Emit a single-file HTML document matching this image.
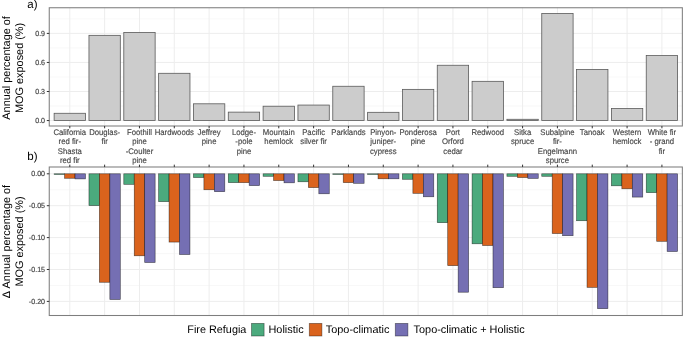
<!DOCTYPE html><html><head><meta charset="utf-8"><style>html,body{margin:0;padding:0;background:#fff;width:685px;height:339px;overflow:hidden}svg{display:block;will-change:transform}text{font-family:"Liberation Sans",sans-serif;text-rendering:geometricPrecision}</style></head><body>
<svg width="685" height="339" viewBox="0 0 685 339">
<rect x="0" y="0" width="685" height="339" fill="#fff"/>
<line x1="49.25" x2="682.35" y1="106.03" y2="106.03" stroke="#F6F6F6" stroke-width="0.8"/>
<line x1="49.25" x2="682.35" y1="76.98" y2="76.98" stroke="#F6F6F6" stroke-width="0.8"/>
<line x1="49.25" x2="682.35" y1="47.93" y2="47.93" stroke="#F6F6F6" stroke-width="0.8"/>
<line x1="49.25" x2="682.35" y1="18.88" y2="18.88" stroke="#F6F6F6" stroke-width="0.8"/>
<line x1="49.25" x2="682.35" y1="120.55" y2="120.55" stroke="#EDEDED" stroke-width="1"/>
<line x1="49.25" x2="682.35" y1="91.50" y2="91.50" stroke="#EDEDED" stroke-width="1"/>
<line x1="49.25" x2="682.35" y1="62.45" y2="62.45" stroke="#EDEDED" stroke-width="1"/>
<line x1="49.25" x2="682.35" y1="33.40" y2="33.40" stroke="#EDEDED" stroke-width="1"/>
<line x1="69.80" x2="69.80" y1="7.75" y2="126.00" stroke="#EDEDED" stroke-width="1"/>
<line x1="104.63" x2="104.63" y1="7.75" y2="126.00" stroke="#EDEDED" stroke-width="1"/>
<line x1="139.46" x2="139.46" y1="7.75" y2="126.00" stroke="#EDEDED" stroke-width="1"/>
<line x1="174.29" x2="174.29" y1="7.75" y2="126.00" stroke="#EDEDED" stroke-width="1"/>
<line x1="209.12" x2="209.12" y1="7.75" y2="126.00" stroke="#EDEDED" stroke-width="1"/>
<line x1="243.95" x2="243.95" y1="7.75" y2="126.00" stroke="#EDEDED" stroke-width="1"/>
<line x1="278.78" x2="278.78" y1="7.75" y2="126.00" stroke="#EDEDED" stroke-width="1"/>
<line x1="313.61" x2="313.61" y1="7.75" y2="126.00" stroke="#EDEDED" stroke-width="1"/>
<line x1="348.44" x2="348.44" y1="7.75" y2="126.00" stroke="#EDEDED" stroke-width="1"/>
<line x1="383.27" x2="383.27" y1="7.75" y2="126.00" stroke="#EDEDED" stroke-width="1"/>
<line x1="418.10" x2="418.10" y1="7.75" y2="126.00" stroke="#EDEDED" stroke-width="1"/>
<line x1="452.93" x2="452.93" y1="7.75" y2="126.00" stroke="#EDEDED" stroke-width="1"/>
<line x1="487.76" x2="487.76" y1="7.75" y2="126.00" stroke="#EDEDED" stroke-width="1"/>
<line x1="522.59" x2="522.59" y1="7.75" y2="126.00" stroke="#EDEDED" stroke-width="1"/>
<line x1="557.42" x2="557.42" y1="7.75" y2="126.00" stroke="#EDEDED" stroke-width="1"/>
<line x1="592.25" x2="592.25" y1="7.75" y2="126.00" stroke="#EDEDED" stroke-width="1"/>
<line x1="627.08" x2="627.08" y1="7.75" y2="126.00" stroke="#EDEDED" stroke-width="1"/>
<line x1="661.91" x2="661.91" y1="7.75" y2="126.00" stroke="#EDEDED" stroke-width="1"/>
<rect x="54.13" y="113.29" width="31.35" height="7.26" fill="#CCCCCC" stroke="#5a5a5a" stroke-width="0.8"/>
<rect x="88.96" y="35.34" width="31.35" height="85.21" fill="#CCCCCC" stroke="#5a5a5a" stroke-width="0.8"/>
<rect x="123.79" y="32.43" width="31.35" height="88.12" fill="#CCCCCC" stroke="#5a5a5a" stroke-width="0.8"/>
<rect x="158.62" y="73.30" width="31.35" height="47.25" fill="#CCCCCC" stroke="#5a5a5a" stroke-width="0.8"/>
<rect x="193.45" y="103.80" width="31.35" height="16.75" fill="#CCCCCC" stroke="#5a5a5a" stroke-width="0.8"/>
<rect x="228.28" y="112.13" width="31.35" height="8.42" fill="#CCCCCC" stroke="#5a5a5a" stroke-width="0.8"/>
<rect x="263.11" y="106.22" width="31.35" height="14.33" fill="#CCCCCC" stroke="#5a5a5a" stroke-width="0.8"/>
<rect x="297.94" y="105.06" width="31.35" height="15.49" fill="#CCCCCC" stroke="#5a5a5a" stroke-width="0.8"/>
<rect x="332.77" y="86.27" width="31.35" height="34.28" fill="#CCCCCC" stroke="#5a5a5a" stroke-width="0.8"/>
<rect x="367.60" y="112.32" width="31.35" height="8.23" fill="#CCCCCC" stroke="#5a5a5a" stroke-width="0.8"/>
<rect x="402.43" y="89.37" width="31.35" height="31.18" fill="#CCCCCC" stroke="#5a5a5a" stroke-width="0.8"/>
<rect x="437.26" y="65.26" width="31.35" height="55.29" fill="#CCCCCC" stroke="#5a5a5a" stroke-width="0.8"/>
<rect x="472.09" y="81.33" width="31.35" height="39.22" fill="#CCCCCC" stroke="#5a5a5a" stroke-width="0.8"/>
<rect x="506.92" y="119.29" width="31.35" height="1.26" fill="#CCCCCC" stroke="#5a5a5a" stroke-width="0.8"/>
<rect x="541.75" y="13.46" width="31.35" height="107.09" fill="#CCCCCC" stroke="#5a5a5a" stroke-width="0.8"/>
<rect x="576.58" y="69.42" width="31.35" height="51.13" fill="#CCCCCC" stroke="#5a5a5a" stroke-width="0.8"/>
<rect x="611.41" y="108.54" width="31.35" height="12.01" fill="#CCCCCC" stroke="#5a5a5a" stroke-width="0.8"/>
<rect x="646.24" y="55.58" width="31.35" height="64.97" fill="#CCCCCC" stroke="#5a5a5a" stroke-width="0.8"/>
<rect x="49.25" y="7.75" width="633.10" height="118.25" fill="none" stroke="#7e7e7e" stroke-width="1.05"/>
<line x1="46.80" x2="49.25" y1="120.55" y2="120.55" stroke="#333333" stroke-width="1"/>
<text transform="translate(45.05,123.20) scale(0.96,1)" font-size="7.4" fill="#474747" stroke="#474747" stroke-width="0.18" text-anchor="end">0.0</text>
<line x1="46.80" x2="49.25" y1="91.50" y2="91.50" stroke="#333333" stroke-width="1"/>
<text transform="translate(45.05,94.15) scale(0.96,1)" font-size="7.4" fill="#474747" stroke="#474747" stroke-width="0.18" text-anchor="end">0.3</text>
<line x1="46.80" x2="49.25" y1="62.45" y2="62.45" stroke="#333333" stroke-width="1"/>
<text transform="translate(45.05,65.10) scale(0.96,1)" font-size="7.4" fill="#474747" stroke="#474747" stroke-width="0.18" text-anchor="end">0.6</text>
<line x1="46.80" x2="49.25" y1="33.40" y2="33.40" stroke="#333333" stroke-width="1"/>
<text transform="translate(45.05,36.05) scale(0.96,1)" font-size="7.4" fill="#474747" stroke="#474747" stroke-width="0.18" text-anchor="end">0.9</text>
<line x1="69.80" x2="69.80" y1="126.00" y2="128.30" stroke="#333333" stroke-width="1"/>
<text transform="translate(69.80,134.80) scale(0.945,1)" font-size="8.2" fill="#474747" stroke="#474747" stroke-width="0.15" text-anchor="middle">California</text>
<text transform="translate(69.80,144.15) scale(0.945,1)" font-size="8.2" fill="#474747" stroke="#474747" stroke-width="0.15" text-anchor="middle">red fir-</text>
<text transform="translate(69.80,153.50) scale(0.945,1)" font-size="8.2" fill="#474747" stroke="#474747" stroke-width="0.15" text-anchor="middle">Shasta</text>
<text transform="translate(69.80,162.85) scale(0.945,1)" font-size="8.2" fill="#474747" stroke="#474747" stroke-width="0.15" text-anchor="middle">red fir</text>
<line x1="104.63" x2="104.63" y1="126.00" y2="128.30" stroke="#333333" stroke-width="1"/>
<text transform="translate(104.63,134.80) scale(0.945,1)" font-size="8.2" fill="#474747" stroke="#474747" stroke-width="0.15" text-anchor="middle">Douglas-</text>
<text transform="translate(104.63,144.15) scale(0.945,1)" font-size="8.2" fill="#474747" stroke="#474747" stroke-width="0.15" text-anchor="middle">fir</text>
<line x1="139.46" x2="139.46" y1="126.00" y2="128.30" stroke="#333333" stroke-width="1"/>
<text transform="translate(139.46,134.80) scale(0.945,1)" font-size="8.2" fill="#474747" stroke="#474747" stroke-width="0.15" text-anchor="middle">Foothill</text>
<text transform="translate(139.46,144.15) scale(0.945,1)" font-size="8.2" fill="#474747" stroke="#474747" stroke-width="0.15" text-anchor="middle">pine</text>
<text transform="translate(139.46,153.50) scale(0.945,1)" font-size="8.2" fill="#474747" stroke="#474747" stroke-width="0.15" text-anchor="middle">-Coulter</text>
<text transform="translate(139.46,162.85) scale(0.945,1)" font-size="8.2" fill="#474747" stroke="#474747" stroke-width="0.15" text-anchor="middle">pine</text>
<line x1="174.29" x2="174.29" y1="126.00" y2="128.30" stroke="#333333" stroke-width="1"/>
<text transform="translate(174.29,134.80) scale(0.945,1)" font-size="8.2" fill="#474747" stroke="#474747" stroke-width="0.15" text-anchor="middle">Hardwoods</text>
<line x1="209.12" x2="209.12" y1="126.00" y2="128.30" stroke="#333333" stroke-width="1"/>
<text transform="translate(209.12,134.80) scale(0.945,1)" font-size="8.2" fill="#474747" stroke="#474747" stroke-width="0.15" text-anchor="middle">Jeffrey</text>
<text transform="translate(209.12,144.15) scale(0.945,1)" font-size="8.2" fill="#474747" stroke="#474747" stroke-width="0.15" text-anchor="middle">pine</text>
<line x1="243.95" x2="243.95" y1="126.00" y2="128.30" stroke="#333333" stroke-width="1"/>
<text transform="translate(243.95,134.80) scale(0.945,1)" font-size="8.2" fill="#474747" stroke="#474747" stroke-width="0.15" text-anchor="middle">Lodge-</text>
<text transform="translate(243.95,144.15) scale(0.945,1)" font-size="8.2" fill="#474747" stroke="#474747" stroke-width="0.15" text-anchor="middle">-pole</text>
<text transform="translate(243.95,153.50) scale(0.945,1)" font-size="8.2" fill="#474747" stroke="#474747" stroke-width="0.15" text-anchor="middle">pine</text>
<line x1="278.78" x2="278.78" y1="126.00" y2="128.30" stroke="#333333" stroke-width="1"/>
<text transform="translate(278.78,134.80) scale(0.945,1)" font-size="8.2" fill="#474747" stroke="#474747" stroke-width="0.15" text-anchor="middle">Mountain</text>
<text transform="translate(278.78,144.15) scale(0.945,1)" font-size="8.2" fill="#474747" stroke="#474747" stroke-width="0.15" text-anchor="middle">hemlock</text>
<line x1="313.61" x2="313.61" y1="126.00" y2="128.30" stroke="#333333" stroke-width="1"/>
<text transform="translate(313.61,134.80) scale(0.945,1)" font-size="8.2" fill="#474747" stroke="#474747" stroke-width="0.15" text-anchor="middle">Pacific</text>
<text transform="translate(313.61,144.15) scale(0.945,1)" font-size="8.2" fill="#474747" stroke="#474747" stroke-width="0.15" text-anchor="middle">silver fir</text>
<line x1="348.44" x2="348.44" y1="126.00" y2="128.30" stroke="#333333" stroke-width="1"/>
<text transform="translate(348.44,134.80) scale(0.945,1)" font-size="8.2" fill="#474747" stroke="#474747" stroke-width="0.15" text-anchor="middle">Parklands</text>
<line x1="383.27" x2="383.27" y1="126.00" y2="128.30" stroke="#333333" stroke-width="1"/>
<text transform="translate(383.27,134.80) scale(0.945,1)" font-size="8.2" fill="#474747" stroke="#474747" stroke-width="0.15" text-anchor="middle">Pinyon-</text>
<text transform="translate(383.27,144.15) scale(0.945,1)" font-size="8.2" fill="#474747" stroke="#474747" stroke-width="0.15" text-anchor="middle">juniper-</text>
<text transform="translate(383.27,153.50) scale(0.945,1)" font-size="8.2" fill="#474747" stroke="#474747" stroke-width="0.15" text-anchor="middle">cypress</text>
<line x1="418.10" x2="418.10" y1="126.00" y2="128.30" stroke="#333333" stroke-width="1"/>
<text transform="translate(418.10,134.80) scale(0.945,1)" font-size="8.2" fill="#474747" stroke="#474747" stroke-width="0.15" text-anchor="middle">Ponderosa</text>
<text transform="translate(418.10,144.15) scale(0.945,1)" font-size="8.2" fill="#474747" stroke="#474747" stroke-width="0.15" text-anchor="middle">pine</text>
<line x1="452.93" x2="452.93" y1="126.00" y2="128.30" stroke="#333333" stroke-width="1"/>
<text transform="translate(452.93,134.80) scale(0.945,1)" font-size="8.2" fill="#474747" stroke="#474747" stroke-width="0.15" text-anchor="middle">Port</text>
<text transform="translate(452.93,144.15) scale(0.945,1)" font-size="8.2" fill="#474747" stroke="#474747" stroke-width="0.15" text-anchor="middle">Orford</text>
<text transform="translate(452.93,153.50) scale(0.945,1)" font-size="8.2" fill="#474747" stroke="#474747" stroke-width="0.15" text-anchor="middle">cedar</text>
<line x1="487.76" x2="487.76" y1="126.00" y2="128.30" stroke="#333333" stroke-width="1"/>
<text transform="translate(487.76,134.80) scale(0.945,1)" font-size="8.2" fill="#474747" stroke="#474747" stroke-width="0.15" text-anchor="middle">Redwood</text>
<line x1="522.59" x2="522.59" y1="126.00" y2="128.30" stroke="#333333" stroke-width="1"/>
<text transform="translate(522.59,134.80) scale(0.945,1)" font-size="8.2" fill="#474747" stroke="#474747" stroke-width="0.15" text-anchor="middle">Sitka</text>
<text transform="translate(522.59,144.15) scale(0.945,1)" font-size="8.2" fill="#474747" stroke="#474747" stroke-width="0.15" text-anchor="middle">spruce</text>
<line x1="557.42" x2="557.42" y1="126.00" y2="128.30" stroke="#333333" stroke-width="1"/>
<text transform="translate(557.42,134.80) scale(0.945,1)" font-size="8.2" fill="#474747" stroke="#474747" stroke-width="0.15" text-anchor="middle">Subalpine</text>
<text transform="translate(557.42,144.15) scale(0.945,1)" font-size="8.2" fill="#474747" stroke="#474747" stroke-width="0.15" text-anchor="middle">fir-</text>
<text transform="translate(557.42,153.50) scale(0.945,1)" font-size="8.2" fill="#474747" stroke="#474747" stroke-width="0.15" text-anchor="middle">Engelmann</text>
<text transform="translate(557.42,162.85) scale(0.945,1)" font-size="8.2" fill="#474747" stroke="#474747" stroke-width="0.15" text-anchor="middle">spurce</text>
<line x1="592.25" x2="592.25" y1="126.00" y2="128.30" stroke="#333333" stroke-width="1"/>
<text transform="translate(592.25,134.80) scale(0.945,1)" font-size="8.2" fill="#474747" stroke="#474747" stroke-width="0.15" text-anchor="middle">Tanoak</text>
<line x1="627.08" x2="627.08" y1="126.00" y2="128.30" stroke="#333333" stroke-width="1"/>
<text transform="translate(627.08,134.80) scale(0.945,1)" font-size="8.2" fill="#474747" stroke="#474747" stroke-width="0.15" text-anchor="middle">Western</text>
<text transform="translate(627.08,144.15) scale(0.945,1)" font-size="8.2" fill="#474747" stroke="#474747" stroke-width="0.15" text-anchor="middle">hemlock</text>
<line x1="661.91" x2="661.91" y1="126.00" y2="128.30" stroke="#333333" stroke-width="1"/>
<text transform="translate(661.91,134.80) scale(0.945,1)" font-size="8.2" fill="#474747" stroke="#474747" stroke-width="0.15" text-anchor="middle">White fir</text>
<text transform="translate(661.91,144.15) scale(0.945,1)" font-size="8.2" fill="#474747" stroke="#474747" stroke-width="0.15" text-anchor="middle">- grand</text>
<text transform="translate(661.91,153.50) scale(0.945,1)" font-size="8.2" fill="#474747" stroke="#474747" stroke-width="0.15" text-anchor="middle">fir</text>
<line x1="49.25" x2="682.35" y1="189.75" y2="189.75" stroke="#F6F6F6" stroke-width="0.8"/>
<line x1="49.25" x2="682.35" y1="221.65" y2="221.65" stroke="#F6F6F6" stroke-width="0.8"/>
<line x1="49.25" x2="682.35" y1="253.55" y2="253.55" stroke="#F6F6F6" stroke-width="0.8"/>
<line x1="49.25" x2="682.35" y1="285.45" y2="285.45" stroke="#F6F6F6" stroke-width="0.8"/>
<line x1="49.25" x2="682.35" y1="173.80" y2="173.80" stroke="#EDEDED" stroke-width="1"/>
<line x1="49.25" x2="682.35" y1="205.70" y2="205.70" stroke="#EDEDED" stroke-width="1"/>
<line x1="49.25" x2="682.35" y1="237.60" y2="237.60" stroke="#EDEDED" stroke-width="1"/>
<line x1="49.25" x2="682.35" y1="269.50" y2="269.50" stroke="#EDEDED" stroke-width="1"/>
<line x1="49.25" x2="682.35" y1="301.40" y2="301.40" stroke="#EDEDED" stroke-width="1"/>
<line x1="69.80" x2="69.80" y1="167.00" y2="315.50" stroke="#EDEDED" stroke-width="1"/>
<line x1="104.63" x2="104.63" y1="167.00" y2="315.50" stroke="#EDEDED" stroke-width="1"/>
<line x1="139.46" x2="139.46" y1="167.00" y2="315.50" stroke="#EDEDED" stroke-width="1"/>
<line x1="174.29" x2="174.29" y1="167.00" y2="315.50" stroke="#EDEDED" stroke-width="1"/>
<line x1="209.12" x2="209.12" y1="167.00" y2="315.50" stroke="#EDEDED" stroke-width="1"/>
<line x1="243.95" x2="243.95" y1="167.00" y2="315.50" stroke="#EDEDED" stroke-width="1"/>
<line x1="278.78" x2="278.78" y1="167.00" y2="315.50" stroke="#EDEDED" stroke-width="1"/>
<line x1="313.61" x2="313.61" y1="167.00" y2="315.50" stroke="#EDEDED" stroke-width="1"/>
<line x1="348.44" x2="348.44" y1="167.00" y2="315.50" stroke="#EDEDED" stroke-width="1"/>
<line x1="383.27" x2="383.27" y1="167.00" y2="315.50" stroke="#EDEDED" stroke-width="1"/>
<line x1="418.10" x2="418.10" y1="167.00" y2="315.50" stroke="#EDEDED" stroke-width="1"/>
<line x1="452.93" x2="452.93" y1="167.00" y2="315.50" stroke="#EDEDED" stroke-width="1"/>
<line x1="487.76" x2="487.76" y1="167.00" y2="315.50" stroke="#EDEDED" stroke-width="1"/>
<line x1="522.59" x2="522.59" y1="167.00" y2="315.50" stroke="#EDEDED" stroke-width="1"/>
<line x1="557.42" x2="557.42" y1="167.00" y2="315.50" stroke="#EDEDED" stroke-width="1"/>
<line x1="592.25" x2="592.25" y1="167.00" y2="315.50" stroke="#EDEDED" stroke-width="1"/>
<line x1="627.08" x2="627.08" y1="167.00" y2="315.50" stroke="#EDEDED" stroke-width="1"/>
<line x1="661.91" x2="661.91" y1="167.00" y2="315.50" stroke="#EDEDED" stroke-width="1"/>
<rect x="54.13" y="173.80" width="10.45" height="0.64" fill="#4BAA7D" stroke="rgba(0,0,0,0.6)" stroke-width="0.65"/>
<rect x="64.58" y="173.80" width="10.45" height="4.47" fill="#DA631D" stroke="rgba(0,0,0,0.6)" stroke-width="0.65"/>
<rect x="75.02" y="173.80" width="10.45" height="5.10" fill="#756FB3" stroke="rgba(0,0,0,0.6)" stroke-width="0.65"/>
<rect x="88.96" y="173.80" width="10.45" height="31.77" fill="#4BAA7D" stroke="rgba(0,0,0,0.6)" stroke-width="0.65"/>
<rect x="99.41" y="173.80" width="10.45" height="108.46" fill="#DA631D" stroke="rgba(0,0,0,0.6)" stroke-width="0.65"/>
<rect x="109.85" y="173.80" width="10.45" height="125.69" fill="#756FB3" stroke="rgba(0,0,0,0.6)" stroke-width="0.65"/>
<rect x="123.79" y="173.80" width="10.45" height="10.53" fill="#4BAA7D" stroke="rgba(0,0,0,0.6)" stroke-width="0.65"/>
<rect x="134.24" y="173.80" width="10.45" height="81.98" fill="#DA631D" stroke="rgba(0,0,0,0.6)" stroke-width="0.65"/>
<rect x="144.68" y="173.80" width="10.45" height="88.68" fill="#756FB3" stroke="rgba(0,0,0,0.6)" stroke-width="0.65"/>
<rect x="158.62" y="173.80" width="10.45" height="27.82" fill="#4BAA7D" stroke="rgba(0,0,0,0.6)" stroke-width="0.65"/>
<rect x="169.07" y="173.80" width="10.45" height="68.27" fill="#DA631D" stroke="rgba(0,0,0,0.6)" stroke-width="0.65"/>
<rect x="179.51" y="173.80" width="10.45" height="80.71" fill="#756FB3" stroke="rgba(0,0,0,0.6)" stroke-width="0.65"/>
<rect x="193.45" y="173.80" width="10.45" height="3.70" fill="#4BAA7D" stroke="rgba(0,0,0,0.6)" stroke-width="0.65"/>
<rect x="203.90" y="173.80" width="10.45" height="15.95" fill="#DA631D" stroke="rgba(0,0,0,0.6)" stroke-width="0.65"/>
<rect x="214.34" y="173.80" width="10.45" height="17.86" fill="#756FB3" stroke="rgba(0,0,0,0.6)" stroke-width="0.65"/>
<rect x="228.28" y="173.80" width="10.45" height="8.80" fill="#4BAA7D" stroke="rgba(0,0,0,0.6)" stroke-width="0.65"/>
<rect x="238.73" y="173.80" width="10.45" height="8.80" fill="#DA631D" stroke="rgba(0,0,0,0.6)" stroke-width="0.65"/>
<rect x="249.17" y="173.80" width="10.45" height="11.80" fill="#756FB3" stroke="rgba(0,0,0,0.6)" stroke-width="0.65"/>
<rect x="263.11" y="173.80" width="10.45" height="2.49" fill="#4BAA7D" stroke="rgba(0,0,0,0.6)" stroke-width="0.65"/>
<rect x="273.56" y="173.80" width="10.45" height="6.70" fill="#DA631D" stroke="rgba(0,0,0,0.6)" stroke-width="0.65"/>
<rect x="284.00" y="173.80" width="10.45" height="9.00" fill="#756FB3" stroke="rgba(0,0,0,0.6)" stroke-width="0.65"/>
<rect x="297.94" y="173.80" width="10.45" height="7.97" fill="#4BAA7D" stroke="rgba(0,0,0,0.6)" stroke-width="0.65"/>
<rect x="308.39" y="173.80" width="10.45" height="13.78" fill="#DA631D" stroke="rgba(0,0,0,0.6)" stroke-width="0.65"/>
<rect x="318.83" y="173.80" width="10.45" height="19.97" fill="#756FB3" stroke="rgba(0,0,0,0.6)" stroke-width="0.65"/>
<rect x="332.77" y="173.80" width="10.45" height="0.64" fill="#4BAA7D" stroke="rgba(0,0,0,0.6)" stroke-width="0.65"/>
<rect x="343.22" y="173.80" width="10.45" height="8.80" fill="#DA631D" stroke="rgba(0,0,0,0.6)" stroke-width="0.65"/>
<rect x="353.66" y="173.80" width="10.45" height="9.51" fill="#756FB3" stroke="rgba(0,0,0,0.6)" stroke-width="0.65"/>
<rect x="367.60" y="173.80" width="10.45" height="0.64" fill="#4BAA7D" stroke="rgba(0,0,0,0.6)" stroke-width="0.65"/>
<rect x="378.05" y="173.80" width="10.45" height="4.98" fill="#DA631D" stroke="rgba(0,0,0,0.6)" stroke-width="0.65"/>
<rect x="388.49" y="173.80" width="10.45" height="4.98" fill="#756FB3" stroke="rgba(0,0,0,0.6)" stroke-width="0.65"/>
<rect x="402.43" y="173.80" width="10.45" height="5.49" fill="#4BAA7D" stroke="rgba(0,0,0,0.6)" stroke-width="0.65"/>
<rect x="412.88" y="173.80" width="10.45" height="19.52" fill="#DA631D" stroke="rgba(0,0,0,0.6)" stroke-width="0.65"/>
<rect x="423.32" y="173.80" width="10.45" height="22.97" fill="#756FB3" stroke="rgba(0,0,0,0.6)" stroke-width="0.65"/>
<rect x="437.26" y="173.80" width="10.45" height="48.87" fill="#4BAA7D" stroke="rgba(0,0,0,0.6)" stroke-width="0.65"/>
<rect x="447.71" y="173.80" width="10.45" height="91.81" fill="#DA631D" stroke="rgba(0,0,0,0.6)" stroke-width="0.65"/>
<rect x="458.15" y="173.80" width="10.45" height="118.41" fill="#756FB3" stroke="rgba(0,0,0,0.6)" stroke-width="0.65"/>
<rect x="472.09" y="173.80" width="10.45" height="69.99" fill="#4BAA7D" stroke="rgba(0,0,0,0.6)" stroke-width="0.65"/>
<rect x="482.54" y="173.80" width="10.45" height="71.71" fill="#DA631D" stroke="rgba(0,0,0,0.6)" stroke-width="0.65"/>
<rect x="492.98" y="173.80" width="10.45" height="113.88" fill="#756FB3" stroke="rgba(0,0,0,0.6)" stroke-width="0.65"/>
<rect x="506.92" y="173.80" width="10.45" height="2.49" fill="#4BAA7D" stroke="rgba(0,0,0,0.6)" stroke-width="0.65"/>
<rect x="517.37" y="173.80" width="10.45" height="3.70" fill="#DA631D" stroke="rgba(0,0,0,0.6)" stroke-width="0.65"/>
<rect x="527.81" y="173.80" width="10.45" height="4.59" fill="#756FB3" stroke="rgba(0,0,0,0.6)" stroke-width="0.65"/>
<rect x="541.75" y="173.80" width="10.45" height="2.49" fill="#4BAA7D" stroke="rgba(0,0,0,0.6)" stroke-width="0.65"/>
<rect x="552.20" y="173.80" width="10.45" height="59.72" fill="#DA631D" stroke="rgba(0,0,0,0.6)" stroke-width="0.65"/>
<rect x="562.64" y="173.80" width="10.45" height="61.89" fill="#756FB3" stroke="rgba(0,0,0,0.6)" stroke-width="0.65"/>
<rect x="576.58" y="173.80" width="10.45" height="46.89" fill="#4BAA7D" stroke="rgba(0,0,0,0.6)" stroke-width="0.65"/>
<rect x="587.03" y="173.80" width="10.45" height="113.56" fill="#DA631D" stroke="rgba(0,0,0,0.6)" stroke-width="0.65"/>
<rect x="597.47" y="173.80" width="10.45" height="134.87" fill="#756FB3" stroke="rgba(0,0,0,0.6)" stroke-width="0.65"/>
<rect x="611.41" y="173.80" width="10.45" height="11.99" fill="#4BAA7D" stroke="rgba(0,0,0,0.6)" stroke-width="0.65"/>
<rect x="621.86" y="173.80" width="10.45" height="14.99" fill="#DA631D" stroke="rgba(0,0,0,0.6)" stroke-width="0.65"/>
<rect x="632.30" y="173.80" width="10.45" height="23.29" fill="#756FB3" stroke="rgba(0,0,0,0.6)" stroke-width="0.65"/>
<rect x="646.24" y="173.80" width="10.45" height="18.82" fill="#4BAA7D" stroke="rgba(0,0,0,0.6)" stroke-width="0.65"/>
<rect x="656.69" y="173.80" width="10.45" height="67.50" fill="#DA631D" stroke="rgba(0,0,0,0.6)" stroke-width="0.65"/>
<rect x="667.13" y="173.80" width="10.45" height="77.71" fill="#756FB3" stroke="rgba(0,0,0,0.6)" stroke-width="0.65"/>
<rect x="49.25" y="167.00" width="633.10" height="148.50" fill="none" stroke="#7e7e7e" stroke-width="1.05"/>
<line x1="46.80" x2="49.25" y1="173.80" y2="173.80" stroke="#333333" stroke-width="1"/>
<text transform="translate(45.05,176.45) scale(0.96,1)" font-size="7.4" fill="#474747" stroke="#474747" stroke-width="0.18" text-anchor="end">0.00</text>
<line x1="46.80" x2="49.25" y1="205.70" y2="205.70" stroke="#333333" stroke-width="1"/>
<text transform="translate(45.05,208.35) scale(0.96,1)" font-size="7.4" fill="#474747" stroke="#474747" stroke-width="0.18" text-anchor="end">-0.05</text>
<line x1="46.80" x2="49.25" y1="237.60" y2="237.60" stroke="#333333" stroke-width="1"/>
<text transform="translate(45.05,240.25) scale(0.96,1)" font-size="7.4" fill="#474747" stroke="#474747" stroke-width="0.18" text-anchor="end">-0.10</text>
<line x1="46.80" x2="49.25" y1="269.50" y2="269.50" stroke="#333333" stroke-width="1"/>
<text transform="translate(45.05,272.15) scale(0.96,1)" font-size="7.4" fill="#474747" stroke="#474747" stroke-width="0.18" text-anchor="end">-0.15</text>
<line x1="46.80" x2="49.25" y1="301.40" y2="301.40" stroke="#333333" stroke-width="1"/>
<text transform="translate(45.05,304.05) scale(0.96,1)" font-size="7.4" fill="#474747" stroke="#474747" stroke-width="0.18" text-anchor="end">-0.20</text>
<line x1="69.80" x2="69.80" y1="164.65" y2="167.00" stroke="#333333" stroke-width="1"/>
<line x1="104.63" x2="104.63" y1="164.65" y2="167.00" stroke="#333333" stroke-width="1"/>
<line x1="139.46" x2="139.46" y1="164.65" y2="167.00" stroke="#333333" stroke-width="1"/>
<line x1="174.29" x2="174.29" y1="164.65" y2="167.00" stroke="#333333" stroke-width="1"/>
<line x1="209.12" x2="209.12" y1="164.65" y2="167.00" stroke="#333333" stroke-width="1"/>
<line x1="243.95" x2="243.95" y1="164.65" y2="167.00" stroke="#333333" stroke-width="1"/>
<line x1="278.78" x2="278.78" y1="164.65" y2="167.00" stroke="#333333" stroke-width="1"/>
<line x1="313.61" x2="313.61" y1="164.65" y2="167.00" stroke="#333333" stroke-width="1"/>
<line x1="348.44" x2="348.44" y1="164.65" y2="167.00" stroke="#333333" stroke-width="1"/>
<line x1="383.27" x2="383.27" y1="164.65" y2="167.00" stroke="#333333" stroke-width="1"/>
<line x1="418.10" x2="418.10" y1="164.65" y2="167.00" stroke="#333333" stroke-width="1"/>
<line x1="452.93" x2="452.93" y1="164.65" y2="167.00" stroke="#333333" stroke-width="1"/>
<line x1="487.76" x2="487.76" y1="164.65" y2="167.00" stroke="#333333" stroke-width="1"/>
<line x1="522.59" x2="522.59" y1="164.65" y2="167.00" stroke="#333333" stroke-width="1"/>
<line x1="557.42" x2="557.42" y1="164.65" y2="167.00" stroke="#333333" stroke-width="1"/>
<line x1="592.25" x2="592.25" y1="164.65" y2="167.00" stroke="#333333" stroke-width="1"/>
<line x1="627.08" x2="627.08" y1="164.65" y2="167.00" stroke="#333333" stroke-width="1"/>
<line x1="661.91" x2="661.91" y1="164.65" y2="167.00" stroke="#333333" stroke-width="1"/>
<text x="27.3" y="8.0" font-size="11.5" fill="#000">a)</text>
<text x="27.3" y="159.6" font-size="11.5" fill="#000">b)</text>
<text transform="translate(9.6,67.90) rotate(-90)" font-size="10.9" fill="#000" text-anchor="middle">Annual percentage of</text>
<text transform="translate(23.1,67.90) rotate(-90)" font-size="10.9" fill="#000" text-anchor="middle">MOG exposed (%)</text>
<text transform="translate(9.6,241.50) rotate(-90)" font-size="10.9" fill="#000" text-anchor="middle">Δ Annual percentage of</text>
<text transform="translate(23.1,241.50) rotate(-90)" font-size="10.9" fill="#000" text-anchor="middle">MOG exposed (%)</text>
<text x="187.3" y="333.3" font-size="10.85" fill="#000">Fire Refugia</text>
<rect x="251.5" y="323.4" width="12.6" height="12.6" fill="#4BAA7D" stroke="rgba(0,0,0,0.45)" stroke-width="0.8"/>
<text x="268.5" y="333.3" font-size="10.9" fill="#000">Holistic</text>
<rect x="309.3" y="323.4" width="12.6" height="12.6" fill="#DA631D" stroke="rgba(0,0,0,0.45)" stroke-width="0.8"/>
<text x="325.8" y="333.3" font-size="10.9" fill="#000">Topo-climatic</text>
<rect x="395.3" y="323.4" width="12.6" height="12.6" fill="#756FB3" stroke="rgba(0,0,0,0.45)" stroke-width="0.8"/>
<text x="413.6" y="333.3" font-size="10.9" fill="#000">Topo-climatic + Holistic</text>
</svg></body></html>
